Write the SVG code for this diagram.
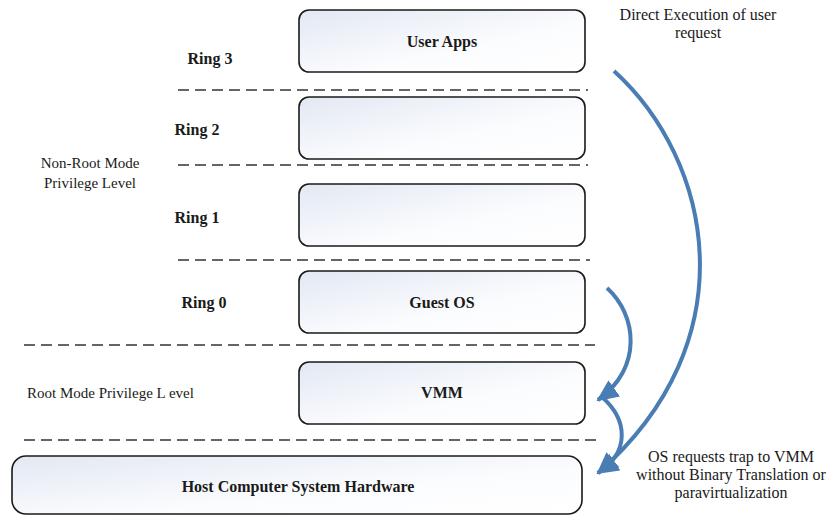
<svg xmlns="http://www.w3.org/2000/svg" width="827" height="516" viewBox="0 0 827 516" font-family="'Liberation Serif', 'DejaVu Serif', serif">
<style>
text{font-family:'Liberation Serif','DejaVu Serif',serif;fill:#1a1a1a}
.b{font-weight:bold;font-size:16px}
.r{font-size:15px}
.rr{font-size:16px}
.box{fill:url(#g);stroke:#1a1a1a;stroke-width:1.6}
.dash{stroke:#333;stroke-width:1.6;stroke-dasharray:11 6;fill:none}
.arr{fill:none;stroke:#4a7db4;stroke-width:4;marker-end:url(#ah)}
</style>
<defs>
<linearGradient id="g" x1="0" y1="0" x2="1" y2="1">
<stop offset="0" stop-color="#e2e8f3"/>
<stop offset="0.6" stop-color="#fbfcfe"/>
<stop offset="1" stop-color="#ffffff"/>
</linearGradient>
<marker id="ah" markerUnits="userSpaceOnUse" markerWidth="22" markerHeight="20" viewBox="0 0 22 20" refX="20" refY="10" orient="auto">
<path d="M0,0 L22,10 L0,20 z" fill="#4a7db4"/>
</marker>
</defs>
<rect width="827" height="516" fill="#fff"/>
<g id="dividers">
<line class="dash" x1="178" y1="90" x2="588" y2="90"/>
<line class="dash" x1="178" y1="165" x2="588" y2="165"/>
<line class="dash" x1="178" y1="260" x2="590" y2="260"/>
<line class="dash" x1="24" y1="345" x2="595" y2="345"/>
<line class="dash" x1="24" y1="440" x2="600" y2="440"/>
</g>
<g id="labels">
<text class="b" x="210" y="64" text-anchor="middle">Ring 3</text>
<text class="b" x="197" y="135" text-anchor="middle">Ring 2</text>
<text class="b" x="197" y="223" text-anchor="middle">Ring 1</text>
<text class="b" x="204" y="308" text-anchor="middle">Ring 0</text>
<text class="r" x="90" y="168" text-anchor="middle">Non-Root Mode</text>
<text class="r" x="90" y="188" text-anchor="middle">Privilege Level</text>
<text class="r" x="27" y="398">Root Mode Privilege L evel</text>
<text class="rr" x="698" y="20" text-anchor="middle">Direct Execution of user</text>
<text class="rr" x="698" y="38" text-anchor="middle">request</text>
<text class="rr" x="731" y="462" text-anchor="middle">OS requests trap to VMM</text>
<text class="rr" x="731" y="480" text-anchor="middle">without Binary Translation or</text>
<text class="rr" x="731" y="498" text-anchor="middle">paravirtualization</text>
</g>
<g id="user-apps">
<rect class="box" x="299" y="10" width="286" height="62" rx="10"/>
<text class="b" x="442" y="47" text-anchor="middle">User Apps</text>
</g>
<g id="ring2-box">
<rect class="box" x="299" y="97" width="286" height="62" rx="10"/>
</g>
<g id="ring1-box">
<rect class="box" x="299" y="184" width="286" height="62" rx="10"/>
</g>
<g id="guest-os">
<rect class="box" x="299" y="271" width="286" height="62" rx="10"/>
<text class="b" x="442" y="308" text-anchor="middle">Guest OS</text>
</g>
<g id="vmm">
<rect class="box" x="299" y="362" width="286" height="62" rx="10"/>
<text class="b" x="442" y="398" text-anchor="middle">VMM</text>
</g>
<g id="hardware">
<rect class="box" x="12" y="456" width="570" height="58" rx="14"/>
<text class="b" x="298" y="492" text-anchor="middle">Host Computer System Hardware</text>
</g>
<g id="connectors">
<path class="arr" d="M614,71 C712,160 750,340 598,473"/>
<path class="arr" d="M607,288 C637,315 643,368 598,400"/>
<path class="arr" d="M602,397 C628,420 630,452 598,473"/>
</g>
</svg>
